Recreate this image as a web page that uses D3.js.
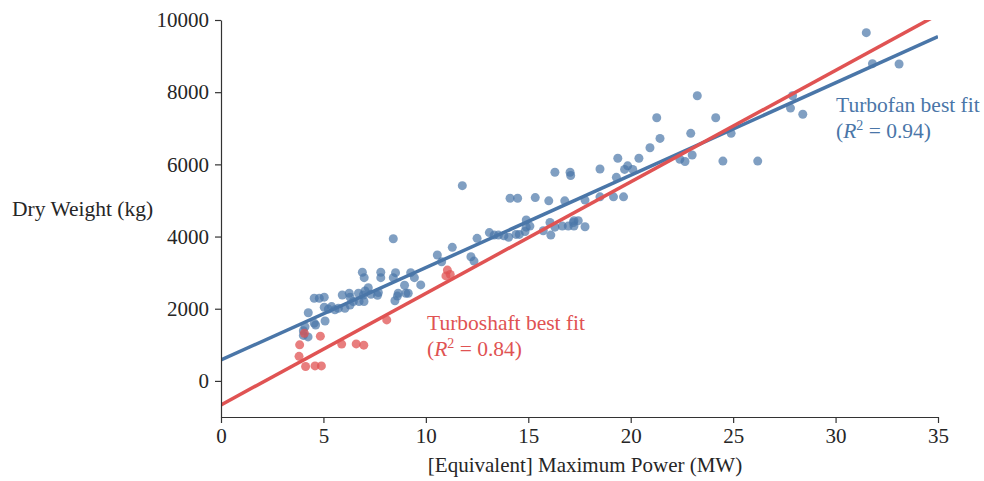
<!DOCTYPE html>
<html>
<head>
<meta charset="utf-8">
<script src="https://cdn.jsdelivr.net/npm/d3@7"></script>
<style>
  body { margin: 0; background: #fff; }
  text { font-family: "Liberation Serif", "Times New Roman", serif; }
</style>
</head>
<body>
<div id="vis"></div>
<script>
// frame constants
const FRAME_WIDTH = 984;
const FRAME_HEIGHT = 481;
const MARGINS = {left: 221, right: 46, top: 20, bottom: 64};
const VIS_WIDTH = FRAME_WIDTH - MARGINS.left - MARGINS.right;
const VIS_HEIGHT = FRAME_HEIGHT - MARGINS.top - MARGINS.bottom;

const BLUE = "#4a76a8";
const RED = "#e05353";

// turbofan engines: power (MW), dry weight (kg)
const fanPower = [31.5, 31.8, 33.1, 27.9, 27.8, 28.4, 26.2, 23.25, 24.15, 21.27,
  21.43, 22.93, 24.9, 24.5, 23.0, 22.4, 22.65, 20.94, 20.4, 19.85,
  19.7, 20.1, 19.37, 19.3, 18.5, 19.16, 19.65, 18.5, 16.3, 17.04,
  17.07, 15.34, 16.0, 16.78, 17.77, 16.06, 17.23, 17.44, 17.2, 16.3,
  16.66, 16.95, 17.23, 17.77, 15.73, 16.1, 15.08, 14.9, 14.9, 14.84,
  14.56, 14.4, 14.04, 13.81, 13.54, 13.33, 13.1, 12.5, 14.11, 14.48,
  11.78, 11.29, 10.56, 10.77, 12.2, 12.35, 8.41, 6.9, 6.99, 7.8,
  7.8, 8.52, 8.41, 9.26, 9.44, 8.96, 9.75, 7.19, 6.71, 6.95,
  7.32, 7.64, 8.65, 8.61, 9.02, 9.14, 6.74, 8.49, 4.55, 4.8,
  5.04, 5.92, 6.26, 7.03, 5.04, 5.4, 5.73, 6.05, 6.3, 6.46,
  6.98, 4.26, 4.55, 5.08, 4.62, 4.1, 4.02, 4.02, 5.56, 5.24,
  4.25, 7.68, 6.3];
const fanWeight = [9650, 8790, 8780, 7900, 7560, 7390, 6090, 7900, 7290, 7290,
  6720, 6860, 6860, 6090, 6260, 6140, 6080, 6460, 6170, 5960,
  5860, 5860, 6170, 5640, 5870, 5100, 5100, 5100, 5780, 5780,
  5690, 5080, 4990, 4990, 5010, 4390, 4440, 4440, 4390, 4260,
  4290, 4290, 4290, 4270, 4160, 4040, 4290, 4460, 4260, 4140,
  4060, 4060, 3980, 4020, 4040, 4040, 4110, 3950, 5060, 5060,
  5410, 3700, 3490, 3300, 3440, 3320, 3940, 3010, 2860, 3010,
  2860, 3000, 2860, 3000, 2860, 2650, 2660, 2580, 2430, 2380,
  2400, 2370, 2430, 2350, 2430, 2430, 2200, 2220, 2290, 2290,
  2320, 2380, 2430, 2490, 2040, 2060, 2010, 2010, 2100, 2200,
  2200, 1890, 1600, 1660, 1550, 1500, 1390, 1260, 1970, 1990,
  1220, 2450, 2320];

// turboshaft engines
const shaftPower = [4.07, 4.85, 3.84, 3.81, 4.13, 4.59, 4.9, 5.89, 6.6, 6.97, 8.09, 11.05, 10.98, 11.19];
const shaftWeight = [1320, 1240, 1000, 680, 400, 415, 415, 1020, 1025, 990, 1690, 3070, 2910, 2950];

// best-fit lines: [intercept, slope]
const fanFit = [580, 256];
const shaftFit = [-665, 309];

const X_TICKS = [0, 5, 10, 15, 20, 25, 30, 35];
const Y_TICKS = [0, 2000, 4000, 6000, 8000, 10000];

const svg = d3.select("#vis").append("svg")
  .attr("width", FRAME_WIDTH)
  .attr("height", FRAME_HEIGHT);

const X_SCALE = d3.scaleLinear().domain([0, 35]).range([0, VIS_WIDTH]);
const Y_SCALE = d3.scaleLinear().domain([-1000, 10000]).range([VIS_HEIGHT, 0]);

const plot = svg.append("g")
  .attr("transform", "translate(" + MARGINS.left + "," + MARGINS.top + ")");

svg.append("defs").append("clipPath").attr("id", "clip")
  .append("rect").attr("width", VIS_WIDTH).attr("height", VIS_HEIGHT);

// points
const fanData = fanPower.map((p, i) => ({x: p, y: fanWeight[i]}));
const shaftData = shaftPower.map((p, i) => ({x: p, y: shaftWeight[i]}));

plot.append("g").selectAll("circle")
  .data(fanData).enter().append("circle")
    .attr("cx", d => X_SCALE(d.x))
    .attr("cy", d => Y_SCALE(d.y))
    .attr("r", 4.5)
    .attr("fill", BLUE)
    .attr("fill-opacity", 0.7);

plot.append("g").selectAll("circle")
  .data(shaftData).enter().append("circle")
    .attr("cx", d => X_SCALE(d.x))
    .attr("cy", d => Y_SCALE(d.y))
    .attr("r", 4.5)
    .attr("fill", RED)
    .attr("fill-opacity", 0.75);

// fit lines
const fitLine = (fit) => [0, 35].map(x => ({x: x, y: fit[0] + fit[1] * x}));
const line = d3.line().x(d => X_SCALE(d.x)).y(d => Y_SCALE(d.y));

plot.append("path").datum(fitLine(fanFit))
  .attr("d", line).attr("fill", "none")
  .attr("stroke", BLUE).attr("stroke-width", 3.5)
  .attr("clip-path", "url(#clip)");

plot.append("path").datum(fitLine(shaftFit))
  .attr("d", line).attr("fill", "none")
  .attr("stroke", RED).attr("stroke-width", 3.5)
  .attr("clip-path", "url(#clip)");

// axes
const xAxis = plot.append("g")
  .attr("transform", "translate(0," + VIS_HEIGHT + ")")
  .call(d3.axisBottom(X_SCALE).tickValues(X_TICKS).tickFormat(d3.format("d"))
    .tickSize(6).tickPadding(5).tickSizeOuter(0));

const yAxis = plot.append("g")
  .call(d3.axisLeft(Y_SCALE).tickValues(Y_TICKS).tickFormat(d3.format("d"))
    .tickSize(6).tickPadding(6).tickSizeOuter(0));

[xAxis, yAxis].forEach(a => {
  a.select(".domain").attr("stroke", "#333").attr("stroke-width", 1.2);
  a.selectAll(".tick line").attr("stroke", "#333").attr("stroke-width", 1.2);
  a.selectAll(".tick text")
    .attr("font-size", "21px")
    .attr("font-family", "Liberation Serif, serif")
    .attr("fill", "#262626");
});

// axis labels
svg.append("text")
  .attr("x", 585)
  .attr("y", 472)
  .attr("text-anchor", "middle")
  .attr("font-size", "21px")
  .attr("fill", "#262626")
  .text("[Equivalent] Maximum Power (MW)");

svg.append("text")
  .attr("x", 12)
  .attr("y", 216)
  .attr("font-size", "21.5px")
  .attr("fill", "#262626")
  .text("Dry Weight (kg)");

// annotations
function annotate(x, y, label, r2, color) {
  const t = svg.append("text").attr("x", x).attr("y", y)
    .attr("font-size", "21.5px").attr("fill", color);
  t.text(label);
  const t2 = svg.append("text").attr("x", x).attr("y", y + 26)
    .attr("font-size", "21.5px").attr("fill", color);
  t2.append("tspan").text("(");
  t2.append("tspan").attr("font-style", "italic").text("R");
  t2.append("tspan").attr("dy", -8).attr("font-size", "14px").text("2");
  t2.append("tspan").attr("dy", 8).text(" = " + r2 + ")");
}

annotate(836, 112, "Turbofan best fit", "0.94", BLUE);
annotate(427, 330, "Turboshaft best fit", "0.84", RED);
</script>
</body>
</html>
